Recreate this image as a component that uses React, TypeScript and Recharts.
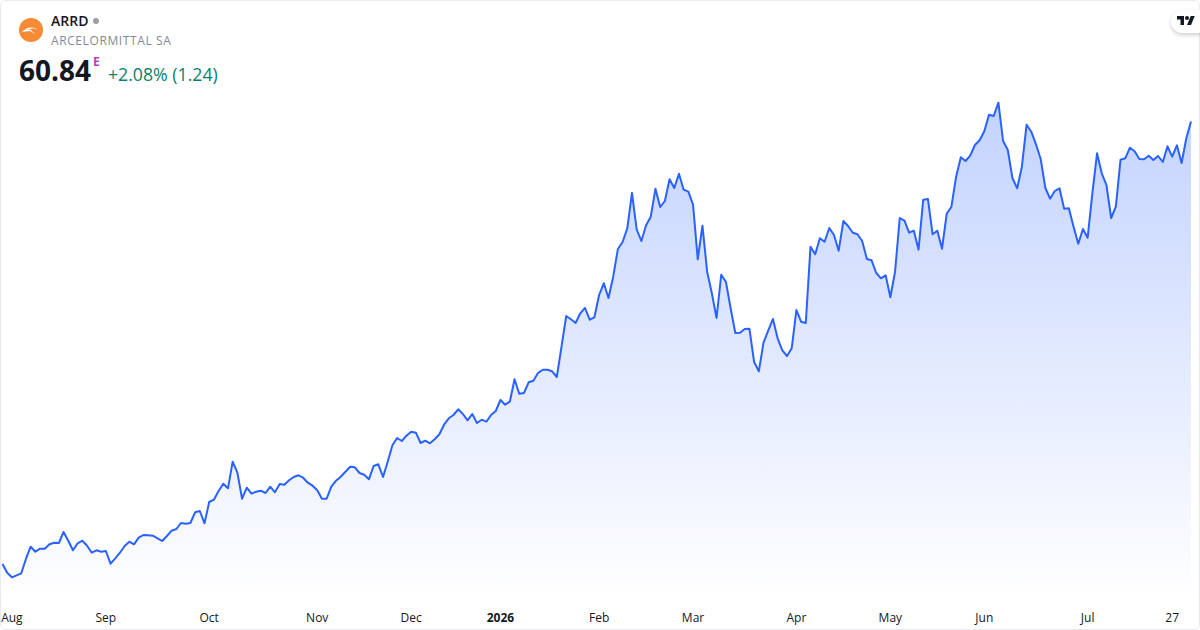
import React from "react";
import { AreaChart, Area, XAxis, YAxis } from "recharts";

const prices = [
  16.6,15.73,15.27,15.47,15.67,17.13,18.33,17.83,18.13,18.13,18.57,18.73,18.7,19.8,18.93,17.97,18.67,18.93,18.43,17.73,17.97,17.83,17.9,16.63,17.17,17.73,18.4,18.83,18.57,19.23,19.5,19.47,19.43,19.17,18.9,19.4,19.93,20.1,20.7,20.63,20.7,21.77,21.9,20.67,22.8,23.03,23.9,24.63,24.17,26.83,25.73,23.13,24.23,23.63,23.83,23.93,23.7,24.33,23.77,24.6,24.53,24.97,25.3,25.47,25.23,
  24.73,24.43,23.97,23.13,23.13,24.33,24.93,25.33,25.83,26.33,26.27,25.7,25.53,25.07,26.4,26.57,25.3,26.83,28.47,29.2,28.9,29.43,29.83,29.73,28.7,28.93,28.67,29.07,29.57,30.53,31.17,31.5,32.07,31.6,30.97,31.6,30.7,31.03,30.83,31.5,31.9,33.0,32.53,32.83,35.07,33.63,33.7,34.77,34.93,35.7,36.03,36.03,35.87,35.3,
  38.33,41.4,41.07,40.7,41.67,42.2,41.03,41.27,43.5,44.67,43.2,45.33,48.1,48.8,50.17,53.7,50.07,48.9,50.47,51.33,54.13,52.3,52.9,55.07,54.2,55.63,54.03,53.83,52.53,47.07,50.43,45.83,43.67,41.2,45.53,44.8,42.17,39.7,39.73,40.1,40.13,36.8,35.87,38.73,39.93,41.1,39.17,37.97,37.4,38.17,42.0,40.83,40.7,
  48.33,47.57,49.17,48.83,50.2,49.5,47.93,50.9,50.4,49.73,49.57,48.9,47.1,46.97,45.7,45.17,45.47,43.27,45.83,51.2,50.93,49.73,49.93,48.03,53.03,53.1,49.57,49.93,48.13,51.63,52.33,55.33,57.27,56.9,57.43,58.5,58.97,59.87,61.53,61.4,62.73,58.9,58.0,55.17,54.17,56.33,60.53,59.83,58.57,57.1,54.2,53.13,53.9,54.17,52.13,52.17,50.33,48.63,50.1,49.23,53.67,57.67,55.67,54.5,51.2,52.33,57.03,57.17,58.23,57.87,57.1,57.07,57.43,57.0,57.4,56.8,58.37,57.33,58.47,56.7,59.17,60.84,
];
const tickLabels = ["Aug","Sep","Oct","Nov","Dec","2026","Feb","Mar","Apr","May","Jun","Jul","27"];
const tickBars = [2,22,44,67,87,106,127,147,169,189,209,231,249];
const priceDomain = [13, 73];

const chartData = prices.map((price, i) => ({ i, price }));
const labelFor = (v: number) => tickLabels[tickBars.indexOf(v)] ?? "";
const FONT = '"Open Sans", "Noto Sans", sans-serif';

function Tick(props: any) {
  const label = labelFor(props.payload.value);
  return (
    <text
      x={props.x}
      y={622}
      textAnchor="middle"
      fontFamily={FONT}
      fontSize={12}
      fontWeight={label === "2026" ? 700 : 400}
      fill="#131722"
    >
      {label}
    </text>
  );
}

const abs = (left: number, top: number, extra: React.CSSProperties = {}): React.CSSProperties => ({
  position: "absolute",
  left,
  top,
  fontFamily: FONT,
  whiteSpace: "nowrap",
  lineHeight: 1,
  ...extra,
});

export default function App() {
  return (
    <div style={{ position: "absolute", left: 0, top: 0, width: 1200, height: 630, background: "#fff", overflow: "hidden" }}>
      <AreaChart width={1200} height={630} data={chartData} margin={{ top: 0, right: 9, bottom: 0, left: 2.5 }}>
        <defs>
          <linearGradient id="fillArea" x1="0" y1="0" x2="0" y2="1">
            <stop offset="0%" stopColor="#2962FF" stopOpacity={0.28} />
            <stop offset="100%" stopColor="#2962FF" stopOpacity={0} />
          </linearGradient>
        </defs>
        <XAxis
          dataKey="i"
          type="number"
          domain={[0, prices.length - 1]}
          ticks={tickBars}
          interval={0}
          axisLine={false}
          tickLine={false}
          height={30}
          tick={<Tick />}
        />
        <YAxis hide domain={priceDomain} />
        <Area
          type="linear"
          dataKey="price"
          stroke="#2962FF"
          strokeWidth={2}
          strokeLinejoin="round"
          fill="url(#fillArea)"
          fillOpacity={1}
          dot={false}
          activeDot={false}
          isAnimationActive={false}
        />
      </AreaChart>

      <div style={{ position: "absolute", left: 0, top: 0, width: 1198, height: 628, border: "1px solid #e8eaef", borderRadius: 6, pointerEvents: "none" }} />

      <svg style={{ position: "absolute", left: 19, top: 18 }} width={24} height={24} viewBox="0 0 24 24">
        <circle cx={12} cy={12} r={12} fill="#F68A35" />
        <path d="M3 14 C7 10 12 7 20 12 C15 10 12 10 9 12 L11.5 11.5 L16 16 L11 13 C8 13.3 6 13.5 3 14Z" fill="#fff" />
      </svg>
      <div style={abs(51, 14, { fontSize: 14, fontWeight: 600, color: "#131722" })}>ARRD</div>
      <div style={{ position: "absolute", left: 93, top: 18, width: 6, height: 6, borderRadius: 3, background: "#9e9e9e" }} />
      <div style={abs(51, 35, { fontSize: 12, color: "#868993", letterSpacing: 0.6 })}>ARCELORMITTAL SA</div>
      <div style={abs(19, 56, { fontSize: 28, fontWeight: 700, color: "#131722" })}>60.84</div>
      <div style={abs(93, 56, { fontSize: 12, fontWeight: 700, color: "#AB47BC" })}>E</div>
      <div style={abs(108, 66, { fontSize: 17.7, color: "#0B7F6C" })}>+2.08% (1.24)</div>

      <div style={{ position: "absolute", left: 1171, top: 10, width: 40, height: 23, borderRadius: 12, background: "#fff", boxShadow: "0 2px 4px rgba(0,0,0,0.2)" }} />
      <svg style={{ position: "absolute", left: 1177, top: 14 }} width={18} height={14} viewBox="0 0 36 28">
        <path d="M14 22H7V11H0V4h14v18zM28 22h-8l7.5-18h8L28 22z" fill="#131722" />
        <circle cx={20} cy={8} r={4} fill="#131722" />
      </svg>
    </div>
  );
}
